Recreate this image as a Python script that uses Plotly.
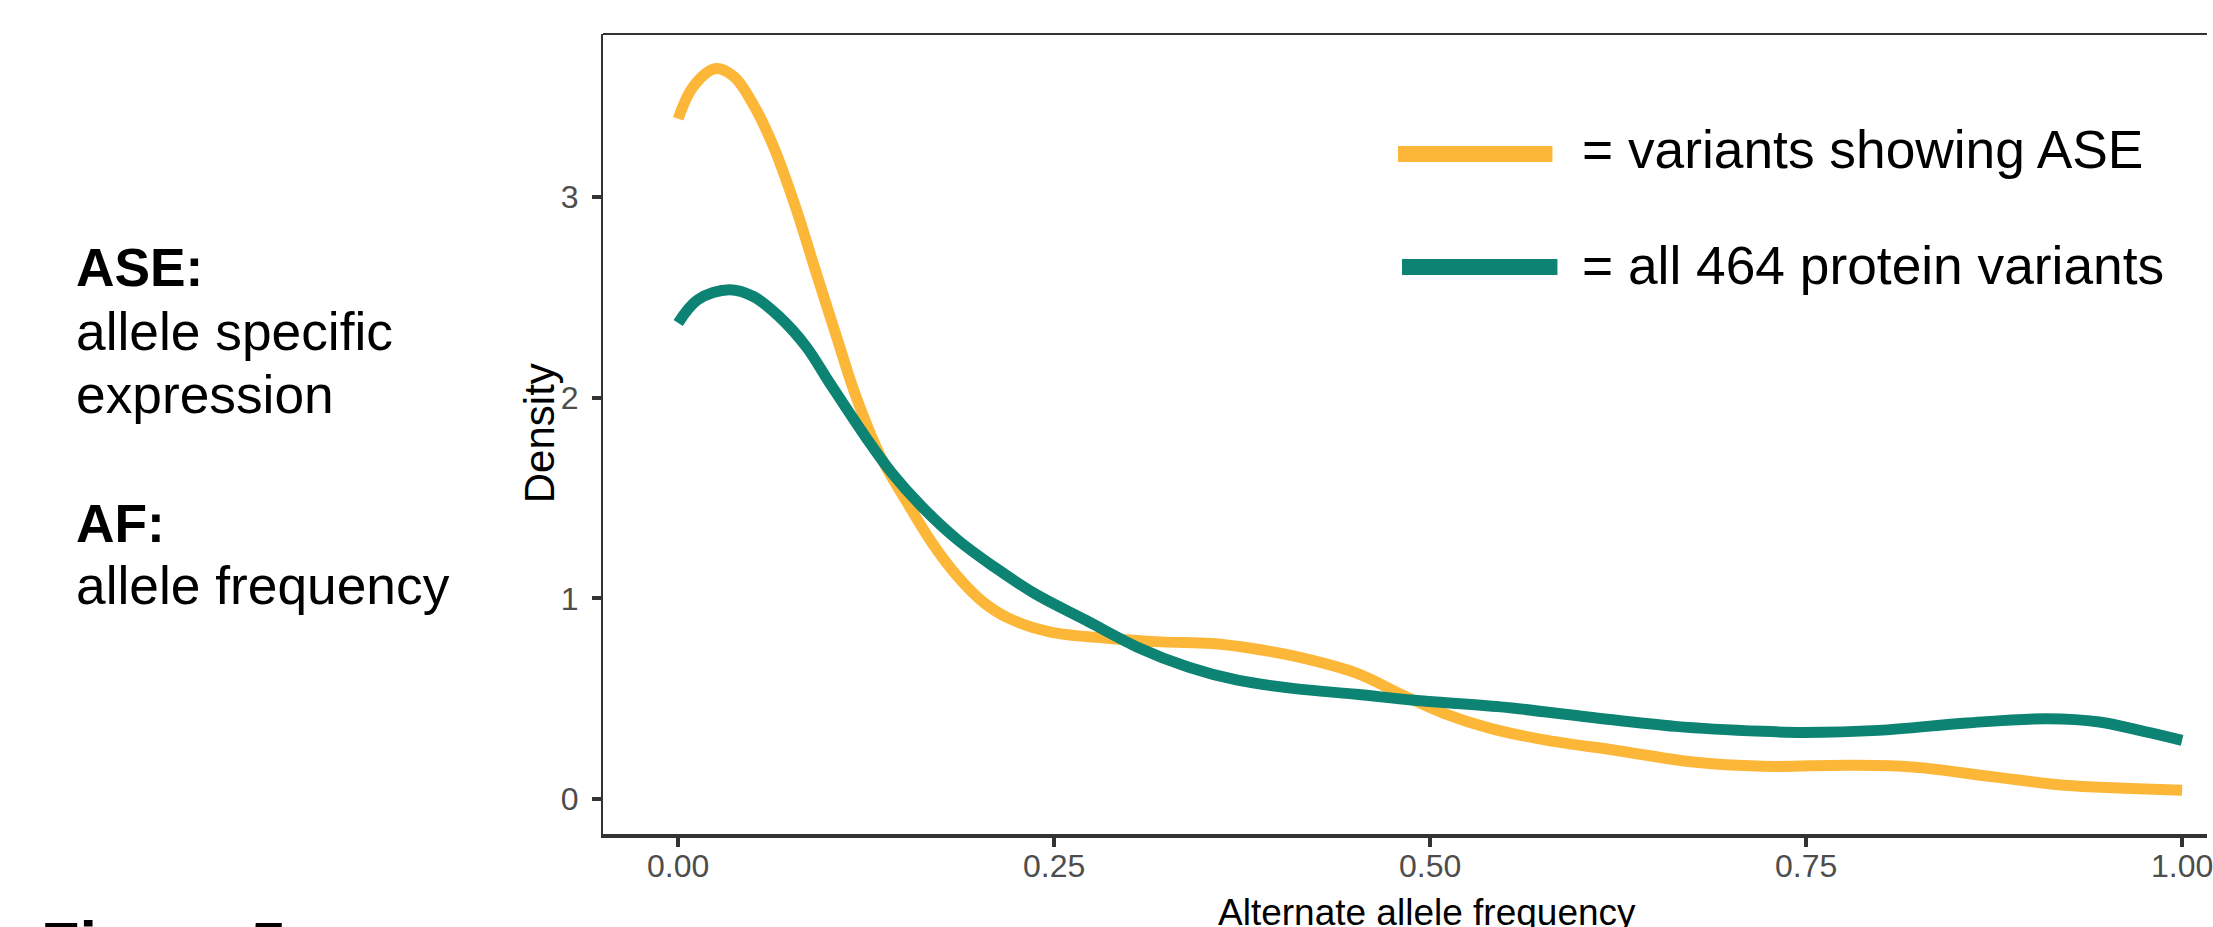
import plotly.graph_objects as go

# ---- data ----
ase_x = [0.000, 0.010, 0.025, 0.037, 0.050, 0.064, 0.078, 0.091, 0.105, 0.118, 0.135, 0.152,
         0.169, 0.186, 0.203, 0.220, 0.247, 0.287, 0.321, 0.355, 0.382, 0.412, 0.451, 0.482,
         0.509, 0.540, 0.578, 0.624, 0.675, 0.721, 0.779, 0.821, 0.876, 0.922, 0.961, 1.000]
ase_y = [3.390, 3.550, 3.640, 3.600, 3.460, 3.240, 2.950, 2.640, 2.310, 2.010, 1.700, 1.480,
         1.274, 1.107, 0.980, 0.900, 0.833, 0.800, 0.783, 0.775, 0.750, 0.708, 0.627, 0.517,
         0.427, 0.352, 0.292, 0.242, 0.184, 0.163, 0.168, 0.159, 0.109, 0.068, 0.054, 0.043]

all_x = [0.000, 0.013, 0.034, 0.050, 0.067, 0.085, 0.101, 0.125, 0.142, 0.162, 0.186, 0.210,
         0.237, 0.271, 0.305, 0.339, 0.372, 0.410, 0.451, 0.489, 0.547, 0.605, 0.663, 0.721,
         0.748, 0.798, 0.857, 0.910, 0.945, 0.976, 1.000]
all_y = [2.372, 2.488, 2.538, 2.504, 2.405, 2.255, 2.070, 1.800, 1.625, 1.457, 1.290, 1.157,
         1.024, 0.891, 0.758, 0.658, 0.592, 0.550, 0.522, 0.492, 0.459, 0.409, 0.362, 0.337,
         0.332, 0.342, 0.379, 0.400, 0.384, 0.334, 0.292]

x_tickvals = [0.0, 0.25, 0.5, 0.75, 1.0]
x_ticktext = ["0.00", "0.25", "0.50", "0.75", "1.00"]
y_tickvals = [0, 1, 2, 3]
y_ticktext = ["0", "1", "2", "3"]

series_names = ["= variants showing ASE", "= all 464 protein variants"]
ORANGE = "#FDB738"
TEAL = "#0D8374"

# ---- layout geometry ----
W, H = 2213, 927
L, R, T, B = 603, 0, 34, 93
PW, PH = W - L - R, H - T - B

def px_x(p):
    return (p - L) / PW

def px_y(p):
    return (H - B - p) / PH

TXT = "Liberation Sans, Arial, Helvetica, sans-serif"
NARROW = "Liberation Sans Narrow, Arial Narrow, Liberation Sans, Arial, sans-serif"

fig = go.Figure()
fig.add_trace(go.Scatter(x=ase_x, y=ase_y, mode="lines", name=series_names[0],
                         line=dict(color=ORANGE, width=11, shape="spline", smoothing=1.0),
                         showlegend=False))
fig.add_trace(go.Scatter(x=all_x, y=all_y, mode="lines", name=series_names[1],
                         line=dict(color=TEAL, width=11, shape="spline", smoothing=1.0),
                         showlegend=False))

annotations = []

def add_text(text, x_px, base_px, fs, bold=False, xanchor="left", color="black", family=TXT):
    center = base_px - 0.3465 * fs
    t = f"<b>{text}</b>" if bold else text
    annotations.append(dict(text=t, x=px_x(x_px), y=px_y(center), xref="paper", yref="paper",
                            xanchor=xanchor, yanchor="middle", showarrow=False,
                            font=dict(size=fs, color=color, family=family)))

FS = 53.3
# left-hand notes
add_text("ASE:", 72, 286, FS, bold=True)
add_text("allele specific", 72, 350, FS)
add_text("expression", 72, 413, FS)
add_text("AF:", 72, 542, FS, bold=True)
add_text("allele frequency", 72, 604, FS)
add_text("Figure 5", 37, 966, 63, bold=True)

# manual legend text
add_text(series_names[0], 1584, 168, FS)
add_text(series_names[1], 1584, 284, FS)

# axis titles
annotations.append(dict(text="Density", x=px_x(539), y=px_y(433), xref="paper", yref="paper",
                        xanchor="center", yanchor="middle", textangle=-90, showarrow=False,
                        font=dict(size=42, color="black", family=TXT)))
add_text("Alternate allele frequency", 1430, 925, 37, xanchor="center")

shapes = [
    # top panel border
    dict(type="line", xref="paper", yref="paper", x0=0, x1=1, y0=1, y1=1,
         line=dict(color="#333333", width=2)),
    # legend keys
    dict(type="line", xref="paper", yref="paper", x0=px_x(1401), x1=px_x(1556),
         y0=px_y(154), y1=px_y(154), line=dict(color=ORANGE, width=16)),
    dict(type="line", xref="paper", yref="paper", x0=px_x(1405), x1=px_x(1561),
         y0=px_y(267), y1=px_y(267), line=dict(color=TEAL, width=16)),
]

ymin = -(834 - 799) / 200.67
ymax = (799 - 34) / 200.67
xmin = -0.05
xmax = (W - 678.5) / 1509.5

fig.update_layout(
    width=W, height=H,
    margin=dict(l=L, r=R, t=T, b=B, pad=0),
    paper_bgcolor="white", plot_bgcolor="white",
    annotations=annotations, shapes=shapes,
    showlegend=False,
    xaxis=dict(range=[xmin, xmax], tickvals=x_tickvals, ticktext=x_ticktext,
               showgrid=False, zeroline=False, showline=True, linecolor="#333333", linewidth=4,
               ticks="outside", ticklen=9, tickwidth=4, tickcolor="#333333",
               ticklabeloverflow="allow", ticklabelstandoff=-8,
               tickfont=dict(size=32, color="#4D4D4D", family=NARROW)),
    yaxis=dict(range=[ymin, ymax], tickvals=y_tickvals, ticktext=y_ticktext,
               showgrid=False, zeroline=False, showline=True, linecolor="#333333", linewidth=2,
               ticks="outside", ticklen=9, tickwidth=4, tickcolor="#333333",
               ticklabelstandoff=7,
               tickfont=dict(size=32, color="#4D4D4D", family=NARROW)),
)

fig.write_html("out.html")
